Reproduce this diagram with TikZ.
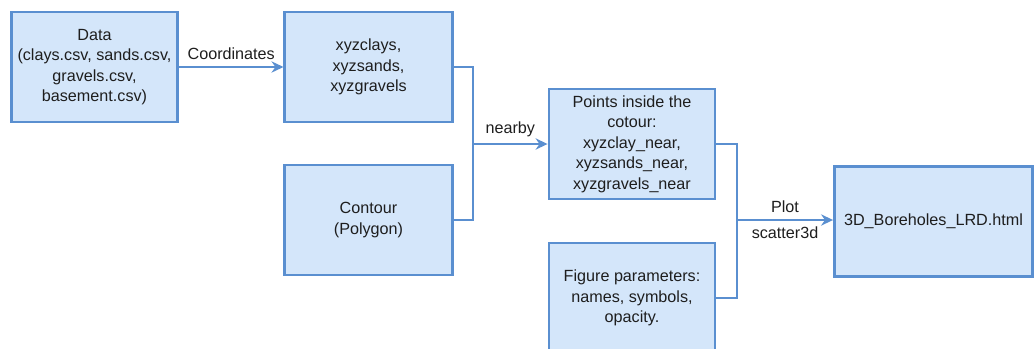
\documentclass[tikz,border=0pt]{standalone}
\usepackage{fontspec}
\setmainfont{Liberation Sans}
\usepackage{xcolor}
\usepackage{tikz}
\usetikzlibrary{positioning,calc,arrows.meta}

\definecolor{boxfill}{HTML}{D4E6FA}
\definecolor{boxline}{HTML}{5A8FD0}
\definecolor{txt}{HTML}{1E1E1E}

\tikzset{
  block/.style={draw=boxline, fill=boxfill, line width=2pt, align=center,
    text=txt, minimum width=4.15cm, minimum height=2.75cm, inner sep=2pt,
    font=\fontsize{11.5}{14.6}\selectfont},
  link/.style={draw=boxline, line width=2pt},
  lbl/.style={text=txt, font=\fontsize{11.5}{14.6}\selectfont, inner sep=4pt}
}

\begin{document}
\begin{tikzpicture}[x=0.025cm, y=-0.025cm, >={Stealth[length=8.5pt,width=8pt]}]
    \useasboundingbox (0,0) rectangle (1035,349);
    \clip (0,0) rectangle (1035,349);

    % Data and coordinates
    \node[block] (data) at (94.5,67) {Data\\(clays.csv, sands.csv,\\gravels.csv,\\basement.csv)};
    \node[block, minimum width=4.18cm] (xyz) at (368.5,67) {xyzclays,\\xyzsands,\\xyzgravels};
    \node[block, minimum width=4.18cm] (contour) at (368.5,220) {Contour\\(Polygon)};

    % Points inside and figure parameters
    \node[block] (points) at (632,144) {Points inside the\\cotour:\\xyzclay\_near,\\xyzsands\_near,\\xyzgravels\_near};
    \node[block] (figure) at (632,298) {Figure parameters:\\names, symbols,\\opacity.};

    % Output
    \node[block, minimum width=4.95cm] (html) at (933.5,221.5) {3D\_Boreholes\_LRD.html};

    % Junctions
    \coordinate (j1) at (473,144);
    \coordinate (j2) at (737,220);

    % Connectors
    \draw[link,->] (data.east) -- (xyz.west) node[lbl, midway, above] {Coordinates};
    \draw[link] (xyz.east) -| (j1);
    \draw[link] (contour.east) -| (j1);
    \draw[link,->] (j1) -- (points.west) node[lbl, midway, above] {nearby};
    \draw[link] (points.east) -| (j2);
    \draw[link] (figure.east) -| (j2);
    \draw[link,->] (j2) -- (html.west |- j2) node[lbl, midway, above] {Plot}
        node[lbl, midway, below] {scatter3d};

\end{tikzpicture}
\end{document}
